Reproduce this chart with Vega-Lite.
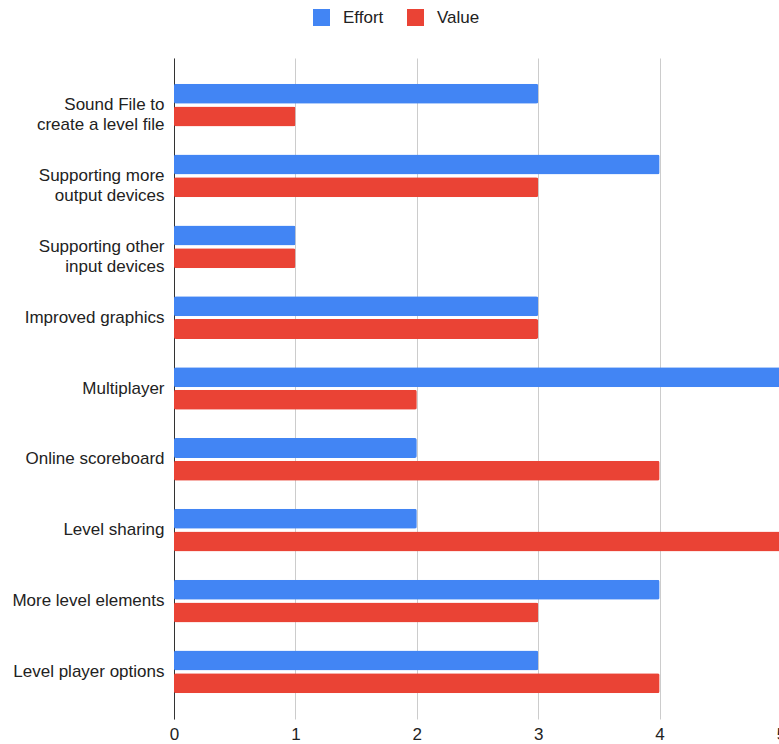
{
  "$schema": "https://vega.github.io/schema/vega-lite/v6.json",
  "autosize": {"type": "none"},
  "padding": {"left": 174, "top": 58, "right": 0, "bottom": 25},
  "width": 607,
  "height": 661,
  "background": "white",
  "config": {
    "view": {"stroke": null},
    "font": "Liberation Sans",
    "text": {"font": "Liberation Sans"}
  },
  "data": {
    "values": [
      {"task": "Sound File to|create a level file", "series": "Effort", "score": 3},
      {"task": "Sound File to|create a level file", "series": "Value", "score": 1},
      {"task": "Supporting more|output devices", "series": "Effort", "score": 4},
      {"task": "Supporting more|output devices", "series": "Value", "score": 3},
      {"task": "Supporting other|input devices", "series": "Effort", "score": 1},
      {"task": "Supporting other|input devices", "series": "Value", "score": 1},
      {"task": "Improved graphics", "series": "Effort", "score": 3},
      {"task": "Improved graphics", "series": "Value", "score": 3},
      {"task": "Multiplayer", "series": "Effort", "score": 5},
      {"task": "Multiplayer", "series": "Value", "score": 2},
      {"task": "Online scoreboard", "series": "Effort", "score": 2},
      {"task": "Online scoreboard", "series": "Value", "score": 4},
      {"task": "Level sharing", "series": "Effort", "score": 2},
      {"task": "Level sharing", "series": "Value", "score": 5},
      {"task": "More level elements", "series": "Effort", "score": 4},
      {"task": "More level elements", "series": "Value", "score": 3},
      {"task": "Level player options", "series": "Effort", "score": 3},
      {"task": "Level player options", "series": "Value", "score": 4}
    ]
  },
  "mark": {"type": "bar", "cornerRadius": 2},
  "encoding": {
    "y": {
      "field": "task",
      "type": "nominal",
      "sort": null,
      "scale": {"paddingInner": 0.397, "paddingOuter": 0.363},
      "axis": {
        "title": null,
        "domain": true,
        "domainColor": "#333333",
        "domainWidth": 1,
        "ticks": false,
        "grid": false,
        "labelFont": "Liberation Sans",
        "labelFontSize": 17,
        "labelColor": "#222222",
        "labelPadding": 10,
        "labelLineHeight": 20,
        "labelLimit": 300,
        "labelExpr": "split(datum.label, '|')"
      }
    },
    "yOffset": {
      "field": "series",
      "type": "nominal",
      "scale": {"paddingInner": 0.12, "paddingOuter": 0}
    },
    "x": {
      "field": "score",
      "type": "quantitative",
      "scale": {"domain": [0, 5], "nice": false},
      "axis": {
        "title": null,
        "domain": false,
        "ticks": false,
        "grid": true,
        "gridColor": "#cccccc",
        "gridWidth": 1,
        "values": [0, 1, 2, 3, 4, 5],
        "labelOverlap": false,
        "labelFont": "Liberation Sans",
        "labelFontSize": 17,
        "labelColor": "#222222",
        "labelPadding": 7,
        "labelFlush": false
      }
    },
    "color": {
      "field": "series",
      "type": "nominal",
      "scale": {"domain": ["Effort", "Value"], "range": ["#4285F4", "#EA4335"]},
      "legend": {
        "title": null,
        "orient": "none",
        "direction": "horizontal",
        "legendX": 139,
        "legendY": -49,
        "symbolType": "square",
        "symbolSize": 289,
        "symbolStrokeWidth": 0,
        "labelFont": "Liberation Sans",
        "labelFontSize": 17,
        "labelColor": "#222222",
        "labelOffset": 13,
        "columnPadding": 23
      }
    }
  }
}
